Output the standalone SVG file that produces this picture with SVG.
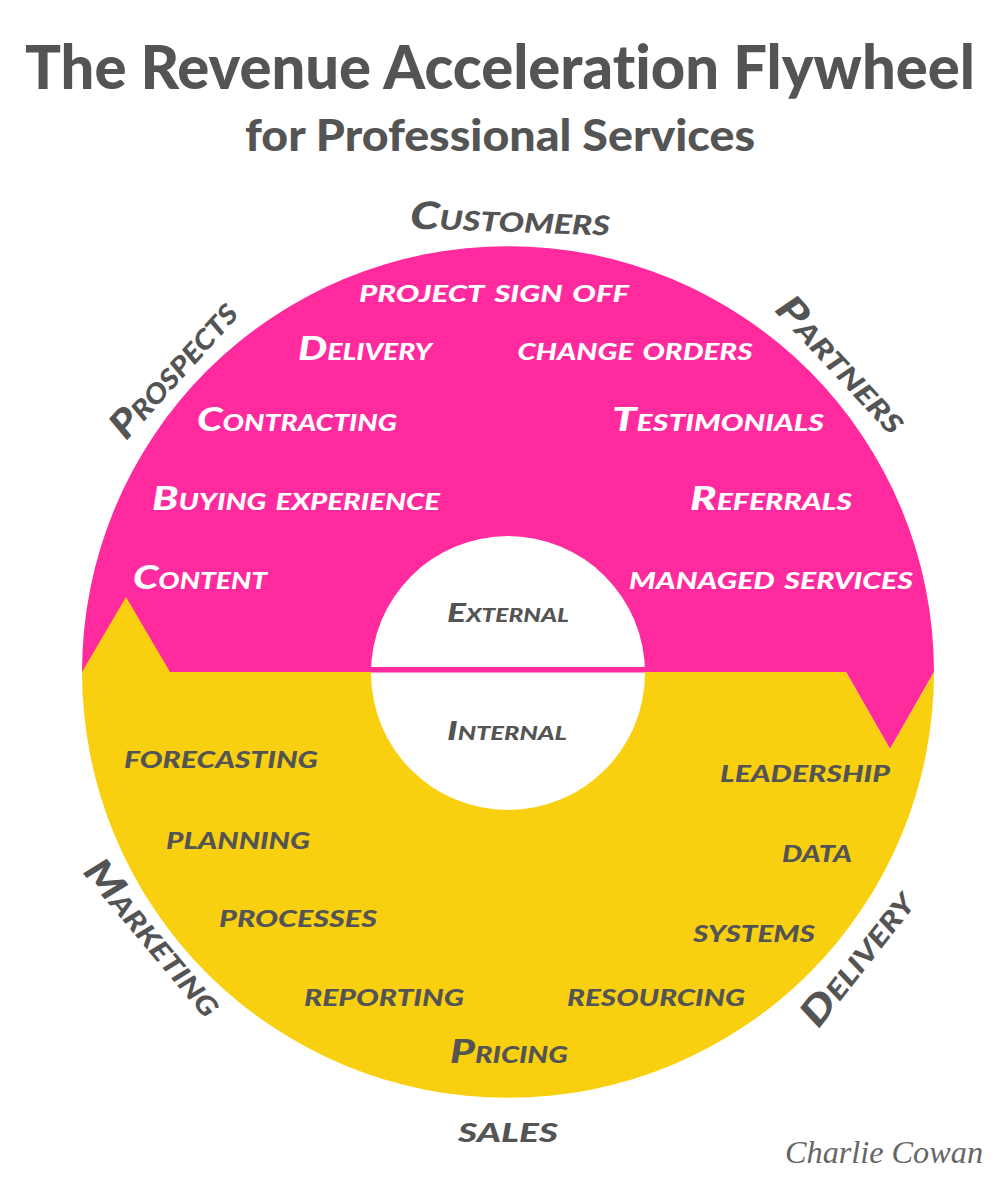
<svg xmlns="http://www.w3.org/2000/svg" width="1000" height="1200" viewBox="0 0 1000 1200">
<style>
.t{font-family:"Lato","Open Sans",sans-serif;font-weight:900;fill:#545454;text-anchor:middle;font-variant-ligatures:none}
.h{font-family:"Lato","Open Sans",sans-serif;font-style:italic;font-weight:900;font-variant:small-caps;text-anchor:middle}
.w{fill:#fff;font-size:32px}
.d{fill:#545454;font-size:32px}
.o{fill:#545454;font-size:38px}
.c{fill:#545454;font-size:26px}
.s{font-family:"Liberation Serif",serif;font-style:italic;font-size:32px;fill:#666;text-anchor:middle}
</style>
<rect width="1000" height="1200" fill="#fff"/>
<g id="title">
<text class="t" x="500" y="89" font-size="60" textLength="950" lengthAdjust="spacingAndGlyphs">The Revenue Acceleration Flywheel</text>
<text class="t" x="500" y="151" font-size="43" textLength="510" lengthAdjust="spacingAndGlyphs">for Professional Services</text>
</g>
<g id="wheel">
<path id="external" d="M82 672A426 426 0 0 1 934 672L890 749L846 672Z" fill="#ff2a9d"/>
<path id="internal" d="M82 672L126 597L170 672H846L890 749L934 672A426 426 0 0 1 82 672Z" fill="#f9d010"/>
<circle cx="508" cy="673" r="137" fill="#fff"/>
<rect x="371" y="667" width="274" height="5.500" fill="#ff2a9d"/>
</g>
<g id="external-items">
<text class="h w" x="494" y="302" textLength="270" lengthAdjust="spacingAndGlyphs">project sign off</text>
<text class="h w" x="365" y="360" textLength="134" lengthAdjust="spacingAndGlyphs">Delivery</text>
<text class="h w" x="635" y="360" textLength="235" lengthAdjust="spacingAndGlyphs">change orders</text>
<text class="h w" x="297" y="431" textLength="200" lengthAdjust="spacingAndGlyphs">Contracting</text>
<text class="h w" x="718" y="431" textLength="212" lengthAdjust="spacingAndGlyphs">Testimonials</text>
<text class="h w" x="296" y="510" textLength="288" lengthAdjust="spacingAndGlyphs">Buying experience</text>
<text class="h w" x="771" y="510" textLength="162" lengthAdjust="spacingAndGlyphs">Referrals</text>
<text class="h w" x="200" y="589" textLength="134" lengthAdjust="spacingAndGlyphs">Content</text>
<text class="h w" x="771" y="589" textLength="284" lengthAdjust="spacingAndGlyphs">managed services</text>
</g>
<g id="center-labels">
<text class="h c" x="508" y="622" textLength="122" lengthAdjust="spacingAndGlyphs">External</text>
<text class="h c" x="507" y="740" textLength="120" lengthAdjust="spacingAndGlyphs">Internal</text>
</g>
<g id="internal-items">
<text class="h d" x="221" y="768" textLength="194" lengthAdjust="spacingAndGlyphs">forecasting</text>
<text class="h d" x="238" y="849" textLength="144" lengthAdjust="spacingAndGlyphs">planning</text>
<text class="h d" x="298" y="927" textLength="158" lengthAdjust="spacingAndGlyphs">processes</text>
<text class="h d" x="384" y="1006" textLength="160" lengthAdjust="spacingAndGlyphs">reporting</text>
<text class="h d" x="656" y="1006" textLength="178" lengthAdjust="spacingAndGlyphs">resourcing</text>
<text class="h d" x="509" y="1063" textLength="118" lengthAdjust="spacingAndGlyphs">Pricing</text>
<text class="h d" x="754" y="942" textLength="122" lengthAdjust="spacingAndGlyphs">systems</text>
<text class="h d" x="817" y="862" textLength="70" lengthAdjust="spacingAndGlyphs">data</text>
<text class="h d" x="805" y="782" textLength="170" lengthAdjust="spacingAndGlyphs">leadership</text>
</g>
<g id="outer-labels">
<text class="h o" x="510" y="232" textLength="200" lengthAdjust="spacingAndGlyphs" transform="rotate(2 510 220)">Customers</text>
<text class="h o" transform="translate(174 370) rotate(-48)" y="12" textLength="170" lengthAdjust="spacingAndGlyphs">Prospects</text>
<text class="h o" transform="translate(841 365) rotate(47)" y="12" textLength="172" lengthAdjust="spacingAndGlyphs">Partners</text>
<text class="h o" transform="translate(153 938) rotate(50)" y="12" textLength="192" lengthAdjust="spacingAndGlyphs">Marketing</text>
<text class="h o" transform="translate(858 959) rotate(-52)" y="12" textLength="160" lengthAdjust="spacingAndGlyphs">Delivery</text>
<text class="h o" x="508" y="1142" textLength="100" lengthAdjust="spacingAndGlyphs">sales</text>
</g>
<text id="signature" class="s" x="884" y="1163" textLength="198" lengthAdjust="spacingAndGlyphs">Charlie Cowan</text>
</svg>
